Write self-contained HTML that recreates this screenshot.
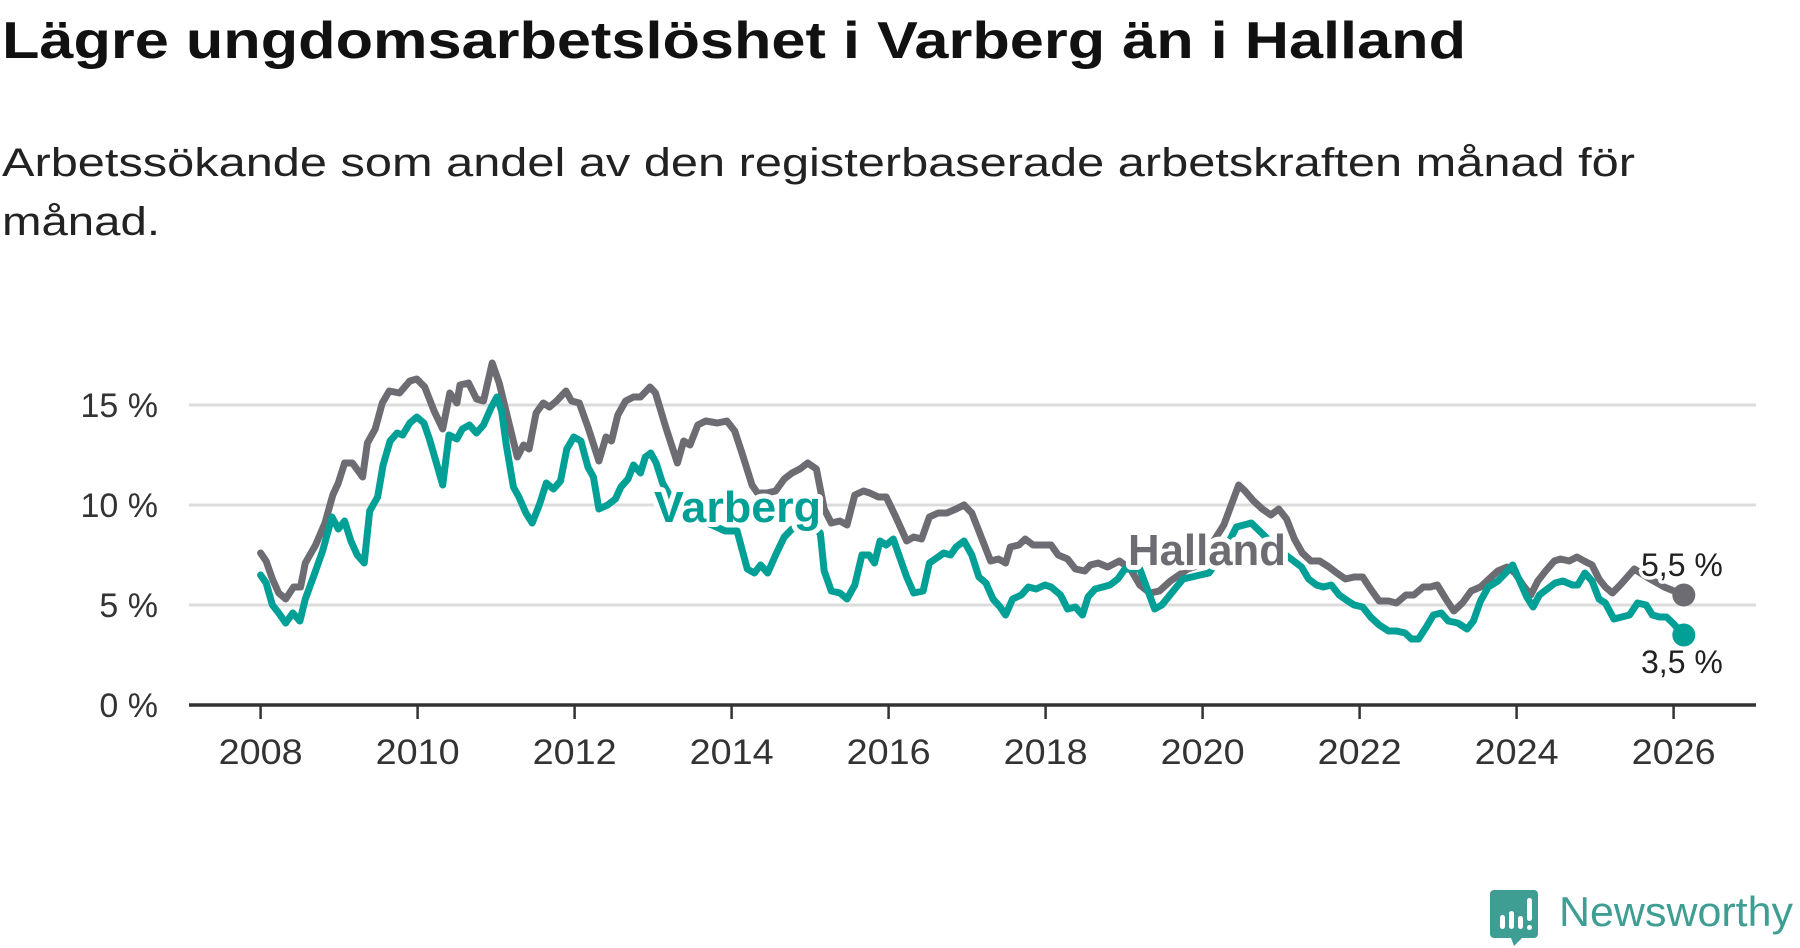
<!DOCTYPE html>
<html><head><meta charset="utf-8"><style>
html,body{margin:0;padding:0;background:#fff;width:1800px;height:948px;overflow:hidden}
svg{display:block}
text{font-family:"Liberation Sans",sans-serif}
</style></head><body>
<svg id="chart" width="1800" height="948" viewBox="0 0 1800 948">
<text x="2" y="58" font-size="52" font-weight="bold" fill="#111" textLength="1464" lengthAdjust="spacingAndGlyphs">Lägre ungdomsarbetslöshet i Varberg än i Halland</text>
<text x="2" y="176" font-size="40" fill="#222" textLength="1633" lengthAdjust="spacingAndGlyphs">Arbetssökande som andel av den registerbaserade arbetskraften månad för</text>
<text x="2" y="235" font-size="40" fill="#222" textLength="158" lengthAdjust="spacingAndGlyphs">månad.</text>
<g id="grid"></g>
<g id="yticks"></g>
<g id="xticks"></g>
<g id="lines"></g>
<g id="labels"></g>
<g>
<path d="M1494 890 h40 a4 4 0 0 1 4 4 v40 a4 4 0 0 1 -4 4 h-12 l-8 8 l-3 -8 h-17 a4 4 0 0 1 -4 -4 v-40 a4 4 0 0 1 4 -4z" fill="#3f9e94"/>
<rect x="1500" y="915" width="5" height="14" rx="2.5" fill="#fff"/>
<rect x="1509" y="911" width="5" height="18" rx="2.5" fill="#fff"/>
<rect x="1518" y="916" width="5" height="13" rx="2.5" fill="#fff"/>
<rect x="1527" y="898" width="5" height="23" rx="2.5" fill="#fff"/>
<rect x="1527" y="925" width="5" height="5" rx="2.5" fill="#fff"/>
<text x="1559" y="926" font-size="42" fill="#3f9e94" textLength="234" lengthAdjust="spacingAndGlyphs">Newsworthy</text>
</g>
</svg>
<script>
const yTicks=[0,5,10,15];
const yTickLabels=["0 %","5 %","10 %","15 %"];
const xTicks=[2008,2010,2012,2014,2016,2018,2020,2022,2024,2026];
const hallandDates=[2008.00,2008.07,2008.15,2008.23,2008.32,2008.42,2008.51,2008.57,2008.70,2008.82,2008.92,2008.99,2009.07,2009.17,2009.30,2009.36,2009.46,2009.55,2009.64,2009.77,2009.90,2009.99,2010.09,2010.21,2010.32,2010.41,2010.50,2010.54,2010.65,2010.75,2010.84,2010.95,2011.04,2011.17,2011.27,2011.35,2011.42,2011.51,2011.60,2011.68,2011.77,2011.89,2011.96,2012.06,2012.17,2012.31,2012.40,2012.47,2012.55,2012.65,2012.75,2012.84,2012.96,2013.03,2013.16,2013.31,2013.39,2013.47,2013.57,2013.67,2013.82,2013.94,2014.04,2014.14,2014.26,2014.33,2014.45,2014.56,2014.67,2014.77,2014.87,2014.97,2015.08,2015.18,2015.27,2015.38,2015.47,2015.57,2015.68,2015.76,2015.87,2015.97,2016.08,2016.23,2016.32,2016.42,2016.52,2016.63,2016.74,2016.86,2016.96,2017.06,2017.18,2017.30,2017.40,2017.49,2017.55,2017.66,2017.74,2017.84,2017.99,2018.07,2018.16,2018.28,2018.38,2018.50,2018.57,2018.67,2018.79,2018.94,2019.08,2019.20,2019.33,2019.45,2019.59,2019.81,2019.96,2020.11,2020.27,2020.46,2020.54,2020.65,2020.76,2020.87,2020.97,2021.07,2021.17,2021.27,2021.38,2021.49,2021.61,2021.71,2021.82,2021.93,2022.04,2022.14,2022.25,2022.37,2022.47,2022.59,2022.69,2022.81,2022.90,2022.99,2023.10,2023.20,2023.31,2023.42,2023.54,2023.65,2023.76,2023.88,2023.98,2024.08,2024.18,2024.27,2024.37,2024.48,2024.56,2024.67,2024.77,2024.86,2024.96,2025.05,2025.13,2025.22,2025.32,2025.41,2025.50,2025.70,2025.88,2026.13];
const hallandValues=[7.6,7.2,6.3,5.6,5.3,5.9,5.9,7.1,8.0,9.1,10.5,11.1,12.1,12.1,11.4,13.1,13.8,15.1,15.7,15.6,16.2,16.3,15.9,14.7,13.8,15.6,15.1,16.0,16.1,15.3,15.2,17.1,16.1,14.0,12.4,13.0,12.8,14.6,15.1,14.9,15.2,15.7,15.2,15.1,13.9,12.2,13.4,13.2,14.5,15.2,15.4,15.4,15.9,15.6,13.9,12.1,13.2,13.0,14.0,14.2,14.1,14.2,13.7,12.5,11.0,10.6,10.6,10.7,11.3,11.6,11.8,12.1,11.8,9.8,9.1,9.2,9.0,10.5,10.7,10.6,10.4,10.4,9.5,8.2,8.4,8.3,9.4,9.6,9.6,9.8,10.0,9.6,8.4,7.2,7.3,7.1,7.9,8.0,8.3,8.0,8.0,8.0,7.5,7.3,6.8,6.7,7.0,7.1,6.9,7.2,6.8,6.0,5.6,5.7,6.2,6.8,7.0,8.0,9.0,11.0,10.7,10.2,9.8,9.5,9.8,9.3,8.3,7.6,7.2,7.2,6.9,6.6,6.3,6.4,6.4,5.8,5.2,5.2,5.1,5.5,5.5,5.9,5.9,6.0,5.3,4.7,5.1,5.7,5.9,6.3,6.7,6.9,6.6,6.0,5.5,6.2,6.7,7.2,7.3,7.2,7.4,7.2,7.0,6.3,5.9,5.6,6.0,6.4,6.8,6.3,5.9,5.5];
const varbergDates=[2008.00,2008.07,2008.15,2008.23,2008.32,2008.41,2008.50,2008.57,2008.69,2008.79,2008.91,2008.99,2009.07,2009.15,2009.23,2009.32,2009.39,2009.49,2009.56,2009.65,2009.74,2009.81,2009.90,2009.99,2010.08,2010.15,2010.24,2010.32,2010.40,2010.50,2010.57,2010.66,2010.75,2010.84,2010.94,2011.01,2011.07,2011.13,2011.22,2011.29,2011.38,2011.46,2011.55,2011.64,2011.73,2011.82,2011.90,2011.99,2012.08,2012.17,2012.24,2012.31,2012.42,2012.52,2012.59,2012.68,2012.75,2012.84,2012.90,2012.97,2013.04,2013.12,2013.31,2013.53,2013.75,2013.92,2014.07,2014.20,2014.29,2014.37,2014.46,2014.56,2014.67,2014.77,2014.92,2015.06,2015.13,2015.18,2015.27,2015.38,2015.47,2015.57,2015.66,2015.75,2015.82,2015.89,2015.97,2016.06,2016.14,2016.23,2016.32,2016.44,2016.52,2016.63,2016.70,2016.79,2016.86,2016.96,2017.06,2017.15,2017.24,2017.33,2017.42,2017.49,2017.58,2017.69,2017.78,2017.88,2017.99,2018.07,2018.19,2018.28,2018.38,2018.47,2018.54,2018.63,2018.73,2018.82,2018.92,2019.01,2019.20,2019.39,2019.48,2019.75,2019.97,2020.08,2020.25,2020.43,2020.62,2020.91,2021.06,2021.26,2021.35,2021.45,2021.54,2021.64,2021.74,2021.85,2021.93,2022.04,2022.14,2022.25,2022.37,2022.47,2022.58,2022.66,2022.75,2022.85,2022.94,2023.04,2023.13,2023.25,2023.37,2023.45,2023.54,2023.64,2023.76,2023.86,2023.95,2024.04,2024.13,2024.21,2024.29,2024.39,2024.49,2024.59,2024.71,2024.78,2024.87,2024.96,2025.05,2025.13,2025.24,2025.34,2025.44,2025.54,2025.65,2025.73,2025.82,2025.91,2025.99,2026.13];
const varbergValues=[6.5,6.1,5.0,4.6,4.1,4.6,4.2,5.3,6.6,7.7,9.4,8.8,9.2,8.2,7.5,7.1,9.7,10.4,12.0,13.2,13.6,13.5,14.1,14.4,14.1,13.3,12.1,11.0,13.5,13.3,13.8,14.0,13.6,14.0,14.9,15.4,14.7,13.0,10.9,10.4,9.6,9.1,10.0,11.1,10.8,11.2,12.8,13.4,13.2,11.9,11.4,9.8,10.0,10.3,10.9,11.3,12.0,11.6,12.4,12.6,12.1,11.1,9.8,9.3,9.0,8.7,8.7,6.8,6.6,7.0,6.6,7.5,8.4,8.8,9.0,8.8,8.6,6.7,5.7,5.6,5.3,6.0,7.5,7.5,7.1,8.2,8.0,8.3,7.4,6.4,5.6,5.7,7.1,7.4,7.6,7.5,7.9,8.2,7.5,6.4,6.1,5.3,4.9,4.5,5.3,5.5,5.9,5.8,6.0,5.9,5.5,4.8,4.9,4.5,5.4,5.8,5.9,6.0,6.3,6.8,6.8,4.8,5.0,6.3,6.5,6.6,7.5,8.9,9.1,8.0,7.5,6.9,6.3,6.0,5.9,6.0,5.5,5.2,5.0,4.9,4.4,4.0,3.7,3.7,3.6,3.3,3.3,3.9,4.5,4.6,4.2,4.1,3.8,4.2,5.2,5.9,6.2,6.6,7.0,6.2,5.4,4.9,5.5,5.8,6.1,6.2,6.0,6.0,6.6,6.2,5.3,5.1,4.3,4.4,4.5,5.1,5.0,4.5,4.4,4.4,4.1,3.5];

const NS='http://www.w3.org/2000/svg';
const X0=189,X1=1756,Y0=705;
function xs(t){return 260.6+(t-2008)*78.5;}
function ys(v){return Y0-v*20;}
function mk(tag,attrs,parent){const e=document.createElementNS(NS,tag);for(const k in attrs)e.setAttribute(k,attrs[k]);parent.appendChild(e);return e;}
const grid=document.getElementById('grid'),yt=document.getElementById('yticks'),xt=document.getElementById('xticks');
yTicks.forEach((v,i)=>{
  if(v>0){const g=mk('line',{x1:X0,x2:X1,y1:ys(v),y2:ys(v),stroke:'#dcdcdc','stroke-width':3},grid);
  
  }
  const t=mk('text',{x:158,y:ys(v)+12,'text-anchor':'end','font-size':34,fill:'#333'},yt);
  t.textContent=yTickLabels[i];
  
  
});
const ax=mk('line',{x1:X0,x2:X1,y1:Y0,y2:Y0,stroke:'#333','stroke-width':3.5},xt);


xTicks.forEach(y=>{
  const l=mk('line',{x1:xs(y),x2:xs(y),y1:Y0,y2:Y0+14,stroke:'#333','stroke-width':2.5},xt);
  
  
  const t=mk('text',{x:xs(y),y:764,'text-anchor':'middle','font-size':35,fill:'#333',textLength:84,lengthAdjust:'spacingAndGlyphs'},xt);
  t.textContent=y;
  
  
});
const lines=document.getElementById('lines');
function series(d,v,color,name){
  const p=d.map((t,i)=>(i?'L':'M')+xs(t).toFixed(1)+' '+ys(v[i]).toFixed(1)).join(' ');
  const el=mk('path',{d:p,fill:'none',stroke:color,'stroke-width':7,'stroke-linejoin':'round','stroke-linecap':'round'},lines);
  
  
  const n=d.length-1;
  const c=mk('circle',{cx:xs(d[n]),cy:ys(v[n]),r:11.5,fill:color},lines);
  
  
}
series(hallandDates,hallandValues,'#6d6c72','halland');
series(varbergDates,varbergValues,'#00a096','varberg');
const lab=document.getElementById('labels');
function label(txt,x,y,size,color,bold,name){
  const t=mk('text',{x:x,y:y,'font-size':size,fill:color,'font-weight':bold?'bold':'normal',stroke:'#fff','stroke-width':bold?10:7,'paint-order':'stroke','stroke-linejoin':'round'},lab);
  t.textContent=txt;
  
  
  return t;
}
const vl=label('Varberg',654,522,44,'#00a096',true,'varberg-label');
vl.setAttribute('textLength','167');
vl.setAttribute('lengthAdjust','spacingAndGlyphs');
const hl=label('Halland',1128,565,44,'#6d6c72',true,'halland-label');
hl.setAttribute('textLength','158');
hl.setAttribute('lengthAdjust','spacingAndGlyphs');
const n1=hallandValues.length-1,n2=varbergValues.length-1;
label(hallandValues[n1].toFixed(1).replace('.',',')+' %',1641,576,32,'#222',false,'halland-value-label');
label(varbergValues[n2].toFixed(1).replace('.',',')+' %',1641,673,32,'#222',false,'varberg-value-label');
</script>
</body></html>
